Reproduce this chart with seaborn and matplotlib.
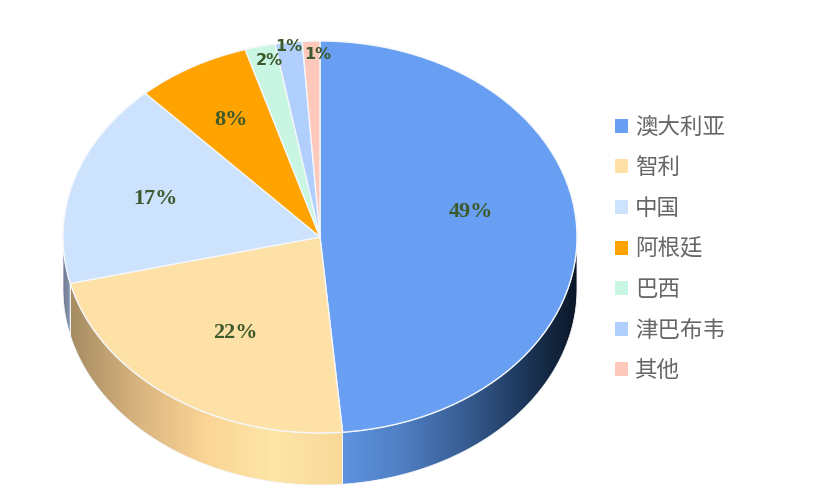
import numpy as np
import matplotlib
matplotlib.use('Agg')
import matplotlib.pyplot as plt
import seaborn as sns
from matplotlib.colors import LinearSegmentedColormap
from matplotlib.patches import Polygon

countries = ['澳大利亚', '智利', '中国', '阿根廷', '巴西', '津巴布韦', '其他']
shares = [48.6, 22.6, 16.9, 7.2, 1.9, 1.7, 1.1]
pct_labels = ['49%', '22%', '17%', '8%', '2%', '1%', '1%']
colors = ['#689ff2', '#fee1a6', '#cce2fd', '#ffa301', '#c9f6e2', '#b1cffc', '#fec8ba']

# how far out each percent label sits, as a share of the radius,
# and how many degrees it is turned away from the middle of its slice
label_r = [0.6, 0.59, 0.67, 0.69, 0.92, 0.98, 0.93]
label_turn = [10.0, 1.5, 0, 0.3, -1.0, 0, -1.5]

# side wall gradients, left to right
wall_stops = {
    0: ['#5f93e0', '#4f7fc2', '#3a5f96', '#1f3a60', '#0a1626'],
    1: ['#a68c62', '#d8b47f', '#fbd595', '#fde6a8', '#f8d898'],
    2: ['#6d7a90', '#8a99b4'],
}

sns.set_theme(style='white')
plt.rcParams['font.family'] = ['Noto Sans CJK SC', 'DejaVu Sans']

CX, CY, RX, RY, DEPTH = 320, 237, 257, 196, 52

fig = plt.figure(figsize=(8.32, 5.04), dpi=100)
ax = fig.add_axes([0, 0, 1, 1])

wedges, _ = ax.pie(shares, colors=colors, startangle=90, counterclock=False,
                   radius=1, wedgeprops={'edgecolor': '#f4f7fb', 'linewidth': 1.0, 'zorder': 3})

depth = DEPTH / RY
total = sum(shares)
edges = np.cumsum([0] + shares) / total * 360

# the visible wall is the lower half of the rim
for i, stops in wall_stops.items():
    a = max(edges[i], 90)
    b = min(edges[i + 1], 270)
    t = np.radians(np.linspace(a, b, 120))
    xs = np.sin(t)
    ys = np.cos(t)
    pts = np.column_stack([np.r_[xs, xs[::-1]], np.r_[ys, ys[::-1] - depth]])
    cmap = LinearSegmentedColormap.from_list('wall%d' % i, stops)
    im = ax.imshow(np.linspace(0, 1, 256).reshape(1, -1), cmap=cmap, aspect='auto',
                   extent=(xs.min(), xs.max(), ys.min() - depth, ys.max()), zorder=1)
    im.set_clip_path(Polygon(pts, closed=True, transform=ax.transData))
    ax.add_patch(Polygon(pts, closed=True, facecolor='none', edgecolor='#f4f7fb',
                         linewidth=0.6, zorder=2))

for w, lab, r, turn in zip(wedges, pct_labels, label_r, label_turn):
    mid = np.radians((w.theta1 + w.theta2) / 2 + turn)
    small = lab in ('1%', '2%')
    ax.text(r * np.cos(mid), r * np.sin(mid), lab, ha='center', va='center',
            color='#3c5a2c', fontweight='bold', zorder=5,
            fontsize=11.5 if small else 16,
            family='DejaVu Sans' if small else 'Liberation Serif')

ax.set_aspect('auto')
ax.set_xlim(-CX / RX, (832 - CX) / RX)
ax.set_ylim((CY - 504) / RY, CY / RY)
ax.axis('off')

ax.legend(wedges, countries, loc='center left', bbox_to_anchor=(615 / 832, 1 - 249 / 504),
          frameon=False, fontsize=16.2, labelcolor='#666666', handlelength=0.58, handleheight=0.58,
          handletextpad=0.3, labelspacing=0.78, borderpad=0, borderaxespad=0)
for h in ax.get_legend().legend_handles:
    h.set_linewidth(0)

fig.savefig('out.png', dpi=100, facecolor='white')
